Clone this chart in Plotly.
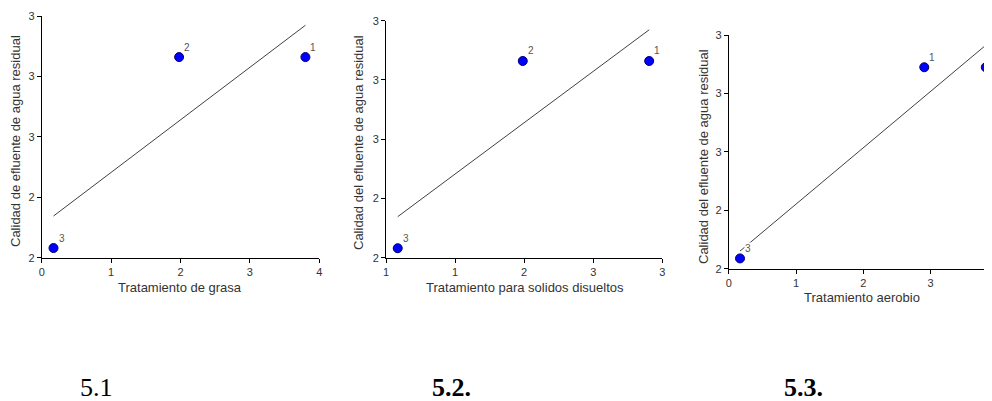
import numpy as np
import plotly.graph_objects as go

# ---------------- data ----------------
p1_labels = ["1", "2", "3"]
p1_x = [3.80, 1.98, 0.17]
p1_y = [2.83, 2.83, 2.04]

p2_labels = ["1", "2", "3"]
p2_x = [2.905, 1.99, 1.085]
p2_y = [2.83, 2.83, 2.04]

p3_labels = ["1", "2", "3"]
p3_x = [2.906, 3.82, 0.168]
p3_y = [2.862, 2.862, 2.044]

y_tickvals = [2.0, 2.25, 2.5, 2.75, 3.0]
y_ticktext = ["2", "2", "3", "3", "3"]
x1_tickvals = [0, 1, 2, 3, 4]
x1_ticktext = ["0", "1", "2", "3", "4"]
x2_tickvals = [1.0, 1.5, 2.0, 2.5, 3.0]
x2_ticktext = ["1", "1", "2", "3", "3"]
x3_tickvals = [0, 1, 2, 3]
x3_ticktext = ["0", "1", "2", "3"]

x_titles = ["Tratamiento de grasa", "Tratamiento para solidos disueltos", "Tratamiento aerobio"]
y_titles = ["Calidad de efluente de agua residual",
            "Calidad del efluente de agua residual",
            "Calidad del efluente de agua residual"]
captions = ["5.1", "<b>5.2.</b>", "<b>5.3.</b>"]

# ---------------- layout helpers ----------------
OFF = 8                      # page body margin
W, H = 992 - OFF, 401 - OFF  # figure size so the page fits the window


def px(x):
    return (x - OFF) / W


def py(y):
    return (H - (y - OFF)) / H


SANS = "Liberation Sans, Arial, sans-serif"
SERIF = "Liberation Serif, Times New Roman, serif"
TXT = "#333333"

fig = go.Figure()

panels = [
    (p1_x, p1_y, p1_labels, "x", "y"),
    (p2_x, p2_y, p2_labels, "x2", "y2"),
    (p3_x, p3_y, p3_labels, "x3", "y3"),
]

annotations = []
for xs, ys, labs, xa, ya in panels:
    xs_a = np.array(xs)
    ys_a = np.array(ys)
    slope, icpt = np.polyfit(xs_a, ys_a, 1)
    lx = np.array([xs_a.min(), xs_a.max()])
    fig.add_trace(go.Scatter(x=lx, y=slope * lx + icpt, mode="lines",
                             line=dict(color="#404040", width=1),
                             xaxis=xa, yaxis=ya, hoverinfo="skip", showlegend=False,
                             cliponaxis=False))
    fig.add_trace(go.Scatter(x=xs, y=ys, mode="markers",
                             marker=dict(size=9, color="#0000ff",
                                         line=dict(color="#00006a", width=1)),
                             xaxis=xa, yaxis=ya, showlegend=False, cliponaxis=False))
    for xv, yv, t in zip(xs, ys, labs):
        annotations.append(dict(x=xv, y=yv, xref=xa, yref=ya, text=t, showarrow=False,
                                xshift=8, yshift=10, xanchor="center", yanchor="middle",
                                bgcolor="white", borderpad=0,
                                font=dict(family=SANS, size=10, color="#555555")))

axis_common = dict(showline=True, linecolor="black", linewidth=1, ticks="outside",
                   ticklen=4, tickcolor="black", tickwidth=1, showgrid=False,
                   zeroline=False, tickfont=dict(family=SANS, size=11, color=TXT),
                   fixedrange=True, automargin=False)

fig.update_layout(
    template="none",
    width=W, height=H,
    autosize=False,
    margin=dict(l=0, r=0, t=0, b=0, pad=0),
    paper_bgcolor="white", plot_bgcolor="white",
    showlegend=False,
    xaxis=dict(domain=[px(41.7), px(319.3)], range=[0, 4], anchor="y",
               tickmode="array", tickvals=x1_tickvals, ticktext=x1_ticktext, **axis_common),
    yaxis=dict(domain=[py(257.7), py(16)], range=[2, 3], anchor="x",
               tickmode="array", tickvals=y_tickvals, ticktext=y_ticktext, **axis_common),
    xaxis2=dict(domain=[px(386), px(662.3)], range=[1, 3], anchor="y2",
                tickmode="array", tickvals=x2_tickvals, ticktext=x2_ticktext, **axis_common),
    yaxis2=dict(domain=[py(257.7), py(20.7)], range=[2, 3], anchor="x2",
                tickmode="array", tickvals=y_tickvals, ticktext=y_ticktext, **axis_common),
    xaxis3=dict(domain=[px(728.7), px(991)], range=[0, (991 - 728.7) / 67.3], anchor="y3",
                tickmode="array", tickvals=x3_tickvals, ticktext=x3_ticktext, **axis_common),
    yaxis3=dict(domain=[py(268.7), py(35)], range=[2, 3], anchor="x3",
                tickmode="array", tickvals=y_tickvals, ticktext=y_ticktext, **axis_common),
)

# axis titles
xt_pos = [(180, 287), (525, 287), (862, 297)]
yt_pos = [(15, 141), (358, 143), (703, 157)]
for t, (x0, y0) in zip(x_titles, xt_pos):
    annotations.append(dict(x=px(x0), y=py(y0), xref="paper", yref="paper", text=t,
                            showarrow=False, xanchor="center", yanchor="middle",
                            font=dict(family=SANS, size=13, color=TXT)))
for t, (x0, y0) in zip(y_titles, yt_pos):
    annotations.append(dict(x=px(x0), y=py(y0), xref="paper", yref="paper", text=t,
                            showarrow=False, xanchor="center", yanchor="middle", textangle=-90,
                            font=dict(family=SANS, size=13, color=TXT)))

# captions
cap_pos = [(96, 387), (451, 387), (803, 387)]
for t, (x0, y0) in zip(captions, cap_pos):
    annotations.append(dict(x=px(x0), y=py(y0), xref="paper", yref="paper", text=t,
                            showarrow=False, xanchor="center", yanchor="middle",
                            font=dict(family=SERIF, size=26, color="black")))

fig.update_layout(annotations=annotations)
fig.write_html("out.html")
